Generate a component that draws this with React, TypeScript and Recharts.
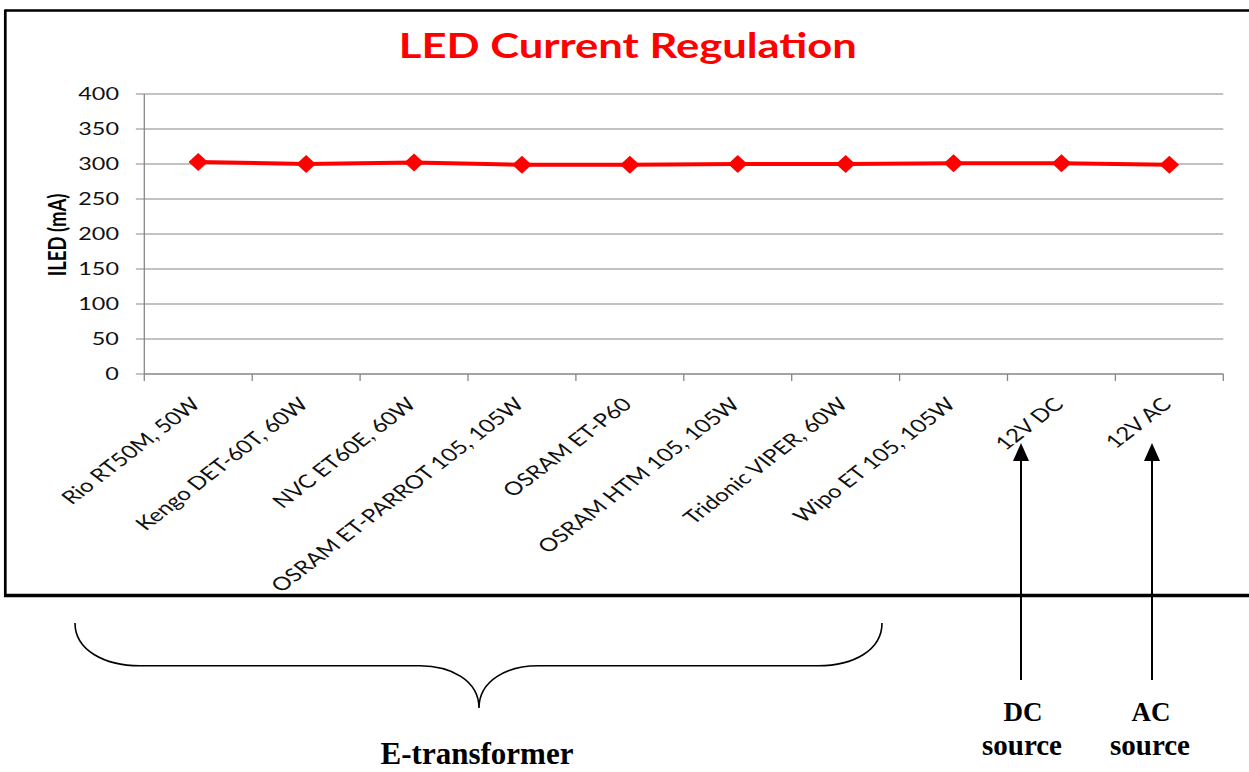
import React from "react"
import { LineChart, Line, XAxis, YAxis, CartesianGrid } from "recharts"

// device under test -> measured LED current (mA)
const categories = [
  "Rio RT50M, 50W",
  "Kengo DET-60T, 60W",
  "NVC ET60E, 60W",
  "OSRAM ET-PARROT 105, 105W",
  "OSRAM ET-P60",
  "OSRAM HTM 105, 105W",
  "Tridonic VIPER, 60W",
  "Wipo ET 105, 105W",
  "12V DC",
  "12V AC",
]
const currentMa = [303, 300, 302, 299, 299, 300, 300, 301, 301, 299]
const yTicks = [0, 50, 100, 150, 200, 250, 300, 350, 400]

// the whole chart is drawn narrow and widened with scaleX
const STRETCH = 1.3
const W = 961
const GRID = "#868686"
const SANS = "Lato, 'Open Sans', sans-serif"
const SERIF = "'Liberation Serif', serif"

const data = categories.map((name, i) => ({ x: i + 0.5, name, value: currentMa[i] }))
const xTicks = [...categories.flatMap((_, i) => [i, i + 0.5]), categories.length]

function XTick(props: any) {
  const { x, y, payload } = props
  const v = payload.value as number
  if (Number.isInteger(v)) {
    return <line x1={x} y1={y} x2={x} y2={y + 7} stroke={GRID} strokeWidth={1} />
  }
  const label = categories[Math.floor(v)]
  return (
    <g transform={`translate(${x - 2},${y + 27}) rotate(-45)`}>
      <text textAnchor="end" dy="0.35em" fontFamily={SANS} fontSize={18.5} fill="#111">
        {label}
      </text>
    </g>
  )
}

function Diamond(props: any) {
  const { cx, cy, index } = props
  if (cx == null || cy == null) return <g key={index} />
  const hw = 7.5
  const hh = 9
  return (
    <path
      key={index}
      d={`M${cx},${cy - hh} L${cx + hw},${cy} L${cx},${cy + hh} L${cx - hw},${cy} Z`}
      fill="#ff0000"
    />
  )
}

export default function App() {
  return (
    <div style={{ position: "absolute", left: 0, top: 0, width: 1249, height: 772, background: "#fff" }}>
      <div
        style={{
          position: "absolute",
          left: 0,
          top: 0,
          width: W,
          height: 600,
          transform: `scaleX(${STRETCH})`,
          transformOrigin: "0 0",
        }}
      >
        <LineChart width={W} height={600} data={data} margin={{ top: 94, right: 20, bottom: 166, left: 0 }}>
          <CartesianGrid horizontal vertical={false} stroke={GRID} strokeWidth={1} />
          <XAxis
            type="number"
            dataKey="x"
            domain={[0, categories.length]}
            ticks={xTicks}
            interval={0}
            height={60}
            axisLine={{ stroke: GRID }}
            tickLine={false}
            tickSize={0}
            tickMargin={0}
            tick={<XTick />}
          />
          <YAxis
            type="number"
            domain={[0, 400]}
            ticks={yTicks}
            width={111}
            interval={0}
            axisLine={{ stroke: GRID }}
            tickLine={{ stroke: GRID }}
            tickSize={6.5}
            tickMargin={13}
            tick={{ fontFamily: SANS, fontSize: 18, fill: "#111" }}
          />
          <Line
            dataKey="value"
            stroke="#ff0000"
            strokeWidth={4}
            dot={Diamond}
            activeDot={false}
            isAnimationActive={false}
          />
        </LineChart>
        <svg width={W} height={600} style={{ position: "absolute", left: 0, top: 0, pointerEvents: "none" }}>
          <text x={483} y={58} textAnchor="middle" fontFamily={SANS} fontWeight="bold" fontSize={33.5} fill="#ff0000">
            LED Current Regulation
          </text>
          <text
            transform="translate(50.5,235) rotate(-90)"
            textAnchor="middle"
            fontFamily={SANS}
            fontWeight="bold"
            fontSize={18.5}
            fill="#000"
          >
            ILED (mA)
          </text>
        </svg>
      </div>
      {/* frame, brace and source arrows */}
      <svg width={1249} height={772} style={{ position: "absolute", left: 0, top: 0, pointerEvents: "none" }}>
        <line x1={5.3} y1={10.5} x2={1249} y2={10.5} stroke="#000" strokeWidth={2.3} />
        <line x1={5.3} y1={9.5} x2={5.3} y2={597} stroke="#000" strokeWidth={2.7} />
        <line x1={4} y1={595.5} x2={1249} y2={595.5} stroke="#000" strokeWidth={3.5} />
        <path
          d="M75,623 C75,650 104,665.7 140,665.7 L420,665.7 C450,665.7 479,680 479,708 C479,680 508,665.7 538,665.7 L818,665.7 C854,665.7 882,650 882,623"
          fill="none"
          stroke="#000"
          strokeWidth={1.6}
        />
        <text x={477} y={764} textAnchor="middle" fontFamily={SERIF} fontWeight="bold" fontSize={31}>
          E-transformer
        </text>
        {[1021, 1152].map((ax) => (
          <g key={ax}>
            <line x1={ax} y1={458} x2={ax} y2={680} stroke="#000" strokeWidth={2} />
            <path d={`M${ax},443 L${ax + 8},461 L${ax - 8},461 Z`} fill="#000" />
          </g>
        ))}
        <text x={1023} y={721} textAnchor="middle" fontFamily={SERIF} fontWeight="bold" fontSize={27}>
          DC
        </text>
        <text x={1022} y={755} textAnchor="middle" fontFamily={SERIF} fontWeight="bold" fontSize={29}>
          source
        </text>
        <text x={1151} y={721} textAnchor="middle" fontFamily={SERIF} fontWeight="bold" fontSize={27}>
          AC
        </text>
        <text x={1150} y={755} textAnchor="middle" fontFamily={SERIF} fontWeight="bold" fontSize={29}>
          source
        </text>
      </svg>
    </div>
  )
}
